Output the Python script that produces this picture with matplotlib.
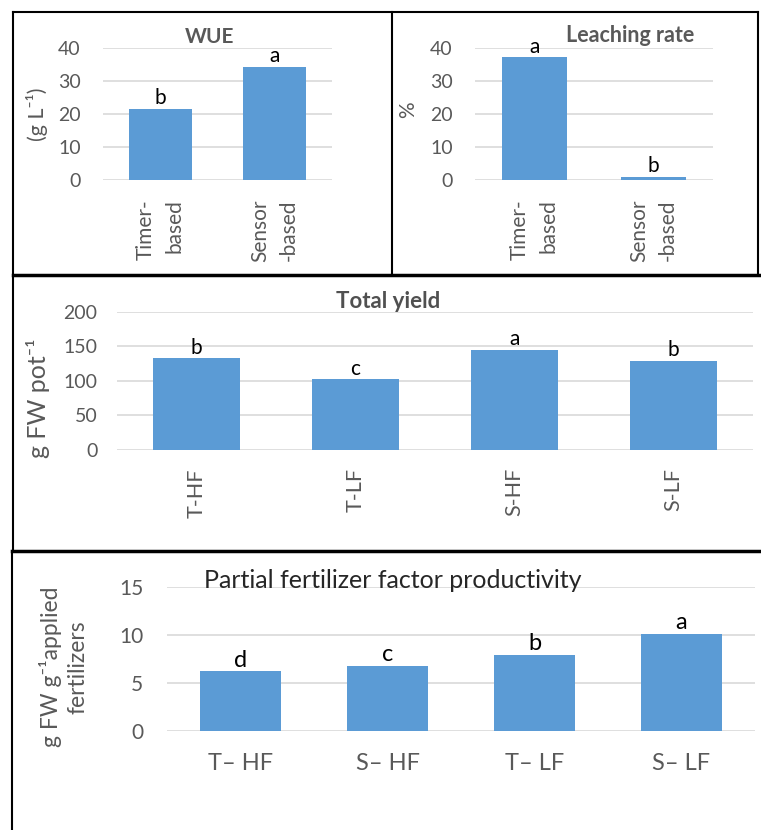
# imports
import matplotlib
matplotlib.use("Agg")
import matplotlib.pyplot as plt
from matplotlib.lines import Line2D

plt.rcParams['font.family'] = ['Lato', 'DejaVu Sans']

# data
irrig_groups = ['Timer-\nbased', 'Sensor\n-based']
wue_vals = [21.5, 34.2]
wue_letters = ['b', 'a']
leach_vals = [37.2, 0.9]
leach_letters = ['a', 'b']

yield_groups = ['T-HF', 'T-LF', 'S-HF', 'S-LF']
yield_vals = [132.5, 102.2, 144.6, 129.2]
yield_letters = ['b', 'c', 'a', 'b']

pffp_groups = ['T\u2013 HF', 'S\u2013 HF', 'T\u2013 LF', 'S\u2013 LF']
pffp_vals = [6.2, 6.8, 7.9, 10.1]
pffp_letters = ['d', 'c', 'b', 'a']

blue = '#5B9BD5'
gray = '#595959'
grid = '#D9D9D9'

W, H = 761, 830
fig = plt.figure(figsize=(W / 100, H / 100), dpi=100)


def box(x0, y0, x1, y1):
    # pixel box (top-left origin) -> figure fraction
    return [x0 / W, 1 - y1 / H, (x1 - x0) / W, (y1 - y0) / H]


def px(x, y):
    return x / W, 1 - y / H


def bar_panel(rect, vals, groups, letters, ymax, step, tsize, lsize, ypad, xpad):
    ax = fig.add_axes(rect)
    pos = range(len(vals))
    bars = ax.bar(pos, vals, width=0.55, color=blue, zorder=3)
    ax.set_xlim(-0.5, len(vals) - 0.5)
    ax.set_ylim(0, ymax)
    ax.set_yticks(range(0, ymax + 1, step))
    ax.yaxis.grid(True, color=grid, linewidth=1.2, zorder=0)
    for s in ax.spines.values():
        s.set_visible(False)
    ax.tick_params(axis='y', length=0, pad=ypad, labelsize=tsize, labelcolor=gray)
    ax.tick_params(axis='x', length=0, pad=xpad, labelsize=tsize, labelcolor=gray)
    ax.set_xticks(list(pos))
    for b, v, t in zip(bars, vals, letters):
        ax.annotate(t, (b.get_x() + b.get_width() / 2, v), xytext=(0, 0.5),
                    textcoords='offset points', ha='center', va='bottom',
                    fontsize=lsize, color='black')
    return ax


#panel 1 - WUE
ax1 = bar_panel(box(103, 48, 332, 180), wue_vals, irrig_groups, wue_letters,
                40, 10, 14, 15, 16, 14)
ax1.set_xticklabels(irrig_groups, rotation=90, va='top', ha='center',
                    multialignment='right', linespacing=1.55, fontsize=15)
fig.text(*px(37, 114), '(g L\u207b\u00b9)', rotation=90, ha='center', va='center',
         fontsize=15.5, color=gray)
fig.text(*px(210, 37), 'WUE', ha='center', va='center', fontsize=15,
         fontweight='bold', color=gray)

#panel 2 - leaching
ax2 = bar_panel(box(475, 48, 713, 180), leach_vals, irrig_groups, leach_letters,
                40, 10, 14, 15, 16, 14)
ax2.set_xticklabels(irrig_groups, rotation=90, va='top', ha='center',
                    multialignment='right', linespacing=1.55, fontsize=15)
fig.text(*px(408, 110), '%', rotation=90, ha='center', va='center',
         fontsize=15, color=gray)
fig.text(*px(630, 35), 'Leaching rate', ha='center', va='center', fontsize=15.5,
         fontweight='bold', color=gray)

#panel 3 - total yield
ax3 = bar_panel(box(117, 311.7, 753, 450), yield_vals, yield_groups, yield_letters,
                200, 50, 14, 15, 14, 13)
ax3.set_xticklabels(yield_groups, rotation=90, va='top', ha='center', fontsize=15.5)
fig.text(*px(38, 398), 'g FW pot\u207b\u00b9', rotation=90, ha='center', va='center',
         fontsize=18, color=gray)
fig.text(*px(388, 302), 'Total yield', ha='center', va='center', fontsize=16,
         fontweight='bold', color='#505050')

#panel 4 - PFFP
ax4 = bar_panel(box(167, 587, 755, 731), pffp_vals, pffp_groups, pffp_letters,
                15, 5, 15, 17, 17, 16)
ax4.set_xticklabels(pffp_groups, fontsize=17)
fig.text(*px(64, 667), 'g FW g\u207b\u00b9applied\nfertilizers', rotation=90,
         ha='center', va='center', fontsize=16.5, color=gray, linespacing=1.35)
fig.text(*px(393, 580), 'Partial fertilizer factor productivity', ha='center',
         va='center', fontsize=18, color='#262626')

# borders round the panels
def hline(y, x0, x1, lw=1.5):
    fig.add_artist(Line2D([x0 / W, x1 / W], [1 - y / H, 1 - y / H],
                          color='black', linewidth=lw))


def vline(x, y0, y1, lw=1.5):
    fig.add_artist(Line2D([x / W, x / W], [1 - y0 / H, 1 - y1 / H],
                          color='black', linewidth=lw))


hline(12.5, 13, 758)
hline(275, 13, 761, lw=2.5)
hline(551, 12, 761, lw=2.5)
vline(13, 12.5, 551)
vline(392, 12.5, 275)
vline(758, 12.5, 275)
vline(12, 551, 830)

fig.savefig('out.png', dpi=100)
